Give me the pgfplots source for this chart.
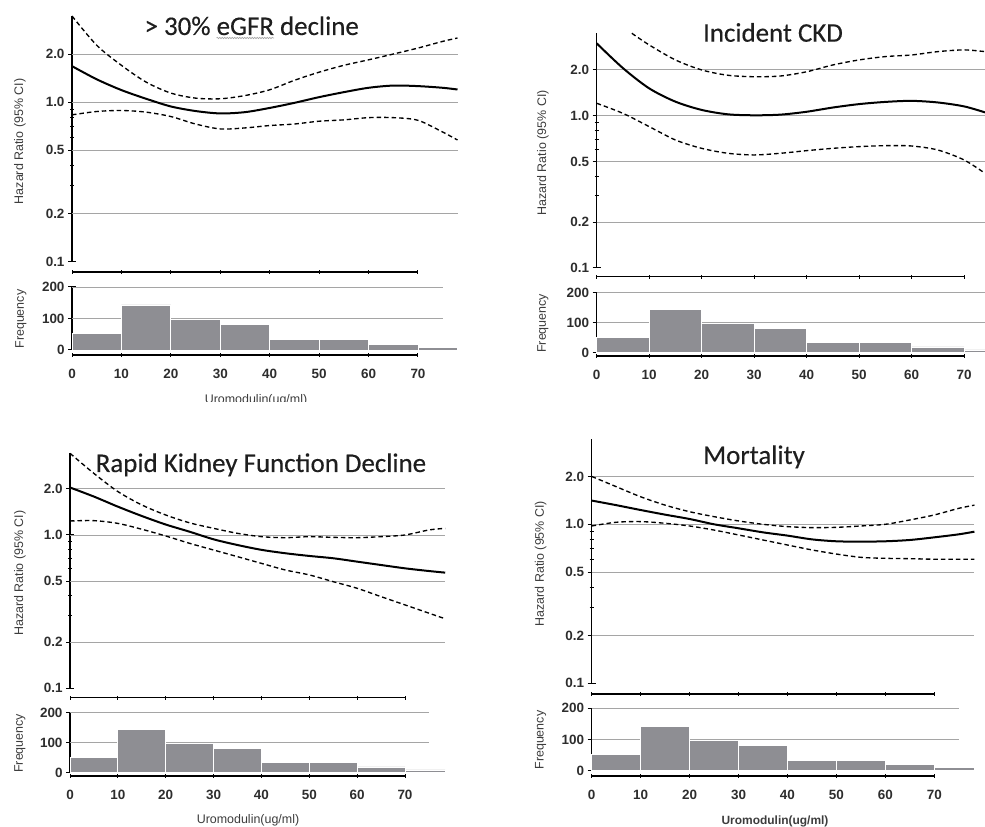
\documentclass[border=0pt]{standalone}
\usepackage{fontspec}
\setmainfont{Liberation Sans}
\newfontfamily\titlefont[FakeBold=0.3]{Carlito}
\usepackage{pgfplots}
\pgfplotsset{compat=1.18}
\usetikzlibrary{decorations.pathmorphing}
\definecolor{bargray}{RGB}{142,142,147}
\definecolor{gridgray}{RGB}{165,165,165}
\definecolor{txt}{RGB}{45,45,45}
\definecolor{lbl}{RGB}{60,60,60}
\definecolor{ttl}{RGB}{30,30,30}
\pgfplotsset{
 mybase/.style={scale only axis, anchor=south west, clip=false, tick align=outside,
   tick style={black, line width=1bp}, axis line style={black, line width=1.3bp},
   ticklabel style={font=\bfseries\fontsize{13.5}{13.5}\selectfont, text=txt},
   label style={font=\fontsize{12.5}{14}\selectfont, text=lbl}},
 myyl/.style={ylabel style={at={([xshift=#1]axis description cs:0,0.49)}, anchor=center}},
 myhr/.style={mybase, axis y line=left, axis x line=none, y axis line style={-}, xtick=\empty, xmin=0,
   ytick={0.1,0.2,0.5,1,2}, yticklabels={0.1,0.2,0.5,1.0,2.0},
   minor ytick={0.3,0.4,0.6,0.7,0.8,0.9}, major tick length=8bp, minor tick length=4bp,
   ylabel={Hazard Ratio (95\% CI)}},
 myfr/.style={mybase, ymin=0, ymax=200, axis y line=left, axis x line=none, y axis line style={-}, xtick=\empty, xmin=0,
   ytick={0,100,200}, yticklabels={0,100,200}, major tick length=8bp, ylabel={Frequency}},
 myxl/.style={mybase, height=1bp, ymin=0, ymax=1, xmin=0, xmax=70, axis x line=bottom, axis y line=none,
   x axis line style={-}, ytick=\empty, xtick={0,10,...,70}, major tick length=4bp},
 myxlab/.style={myxl, xticklabels={0,10,20,30,40,50,60,70}, xticklabel style={anchor=center, yshift=-17bp}},
 myxnolab/.style={myxl, xticklabels={}},
 myest/.style={black, line width=2bp, smooth},
 myci/.style={black, line width=1.35bp, dash pattern=on 4.5bp off 3bp, smooth},
 mygrid/.style={gridgray, line width=0.9bp, forget plot},
 myhist/.style={ybar interval, fill=bargray, draw=white, line width=0.8bp},
}
\begin{document}
\begin{tikzpicture}
\path[use as bounding box] (0,0) rectangle (985bp,827bp);
% ---------------- Panel 1 ----------------
\begin{axis}[myhr, ymode=log, ymin=0.1, at={(72bp,565bp)}, width=385.5bp, height=246bp, xmax=78, ymax=3.46, myyl=-52bp]
\addplot[mygrid] coordinates {(0,0.2)(78,0.2)};
\addplot[mygrid] coordinates {(0,0.5)(78,0.5)};
\addplot[mygrid] coordinates {(0,1)(78,1)};
\addplot[mygrid] coordinates {(0,2)(78,2)};
\addplot[myci] coordinates {(0,3.46)(5,2.27)(10,1.70)(15,1.335)(20,1.14)(25,1.06)(30,1.05)(35,1.10)(40,1.195)(45,1.37)(50,1.54)(55,1.70)(60,1.84)(65,2.0)(70,2.18)(75,2.40)(78,2.52)};
\addplot[myest] coordinates {(0,1.68)(5,1.39)(10,1.19)(15,1.05)(20,0.94)(25,0.88)(30,0.85)(35,0.866)(40,0.92)(45,0.99)(50,1.075)(55,1.155)(60,1.23)(65,1.27)(70,1.26)(75,1.23)(78,1.2)};
\addplot[myci] coordinates {(0,0.833)(5,0.874)(10,0.887)(15,0.866)(20,0.813)(25,0.73)(30,0.68)(35,0.69)(40,0.714)(45,0.73)(50,0.76)(55,0.775)(60,0.80)(65,0.80)(70,0.77)(75,0.65)(78,0.58)};
\end{axis}
\begin{axis}[myxnolab, at={(72bp,555bp)}, width=346bp]\addplot[draw=none] coordinates {(0,0)};\end{axis}
\begin{axis}[myfr, at={(72bp,477bp)}, width=385.5bp, height=63bp, xmax=78, myyl=-51bp]
\addplot[mygrid] coordinates {(0,100)(75,100)};
\addplot[mygrid] coordinates {(0,200)(75,200)};
\addplot[myhist] coordinates {(0,52)(10,143)(20,97)(30,80)(40,34)(50,34)(60,19)(70,9)(78,9)};
\end{axis}
\begin{axis}[myxlab, at={(72bp,472bp)}, width=346bp]\addplot[draw=none] coordinates {(0,0)};\end{axis}
\node[font=\titlefont\fontsize{27}{30}\selectfont, text=ttl, anchor=base] at (251.7bp,792bp) {> 30\% eGFR decline};
\draw[gridgray, line width=0.6bp, decorate, decoration={snake, amplitude=0.7bp, segment length=2.5bp}] (216.5bp,789bp) -- (274bp,789bp);
\begin{scope}
\clip (150bp,425.3bp) rectangle (360bp,440bp);
\node[anchor=base, font=\fontsize{12.5}{14}\selectfont, text=lbl] at (256bp,423bp) {Uromodulin(ug/ml)};
\end{scope}
% ---------------- Panel 2 ----------------
\begin{axis}[myhr, ymode=log, ymin=0.1, at={(596.7bp,559bp)}, width=388.3bp, height=234.7bp, xmax=74, ymax=3.47, myyl=-53.7bp]
\addplot[mygrid] coordinates {(0,0.2)(74,0.2)};
\addplot[mygrid] coordinates {(0,0.5)(74,0.5)};
\addplot[mygrid] coordinates {(0,1)(74,1)};
\addplot[mygrid] coordinates {(0,2)(74,2)};
\addplot[myci] coordinates {(6.7,3.47)(10,2.91)(15,2.32)(20,1.995)(25,1.84)(30,1.80)(35,1.82)(40,1.94)(45,2.15)(50,2.32)(55,2.44)(60,2.50)(65,2.63)(70,2.70)(74,2.63)};
\addplot[myest] coordinates {(0,2.98)(5,2.05)(10,1.51)(15,1.235)(20,1.09)(25,1.02)(30,1.005)(35,1.015)(40,1.06)(45,1.13)(50,1.19)(55,1.23)(60,1.25)(65,1.22)(70,1.15)(74,1.05)};
\addplot[myci] coordinates {(0,1.205)(5,1.035)(10,0.847)(15,0.692)(20,0.61)(25,0.566)(30,0.552)(35,0.566)(40,0.589)(45,0.61)(50,0.626)(55,0.635)(60,0.632)(65,0.595)(70,0.512)(74,0.418)};
\end{axis}
\begin{axis}[myxnolab, at={(596.7bp,550.3bp)}, width=367.3bp]\addplot[draw=none] coordinates {(0,0)};\end{axis}
\begin{axis}[myfr, at={(596.7bp,474.3bp)}, width=388.3bp, height=60bp, xmax=74, myyl=-53.7bp]
\addplot[mygrid] coordinates {(0,100)(74,100)};
\addplot[mygrid] coordinates {(0,200)(74,200)};
\addplot[myhist] coordinates {(0,52)(10,143)(20,97)(30,80)(40,34)(50,34)(60,19)(70,9)(74,9)};
\end{axis}
\begin{axis}[myxlab, at={(596.7bp,471bp)}, width=367.3bp]\addplot[draw=none] coordinates {(0,0)};\end{axis}
\node[font=\titlefont\fontsize{27}{30}\selectfont, text=ttl, anchor=base] at (773bp,785.3bp) {Incident CKD};
% ---------------- Panel 3 ----------------
\begin{axis}[myhr, ymode=log, ymin=0.1, at={(70bp,138.7bp)}, width=375.2bp, height=235bp, xmax=78.4, ymax=3.41, myyl=-50bp]
\addplot[mygrid] coordinates {(0,0.2)(78.4,0.2)};
\addplot[mygrid] coordinates {(0,0.5)(78.4,0.5)};
\addplot[mygrid] coordinates {(0,1)(78.4,1)};
\addplot[mygrid] coordinates {(0,2)(78.4,2)};
\addplot[myci] coordinates {(0,3.41)(5,2.52)(10,1.92)(15,1.57)(20,1.35)(25,1.20)(30,1.105)(35,1.025)(40,0.975)(45,0.96)(50,0.975)(55,0.965)(60,0.96)(65,0.975)(70,1.0)(75,1.078)(78.4,1.105)};
\addplot[myest] coordinates {(0,2.04)(5,1.78)(10,1.53)(15,1.33)(20,1.17)(25,1.05)(30,0.937)(35,0.86)(40,0.80)(45,0.76)(50,0.73)(55,0.705)(60,0.67)(65,0.637)(70,0.606)(75,0.582)(78.4,0.568)};
\addplot[myci] coordinates {(0,1.234)(5,1.24)(10,1.19)(15,1.09)(20,0.985)(25,0.882)(30,0.798)(35,0.722)(40,0.653)(45,0.591)(50,0.549)(55,0.496)(60,0.449)(65,0.396)(70,0.35)(75,0.309)(78.4,0.284)};
\end{axis}
\begin{axis}[myxnolab, at={(70bp,129.3bp)}, width=335bp]\addplot[draw=none] coordinates {(0,0)};\end{axis}
\begin{axis}[myfr, at={(70bp,54.3bp)}, width=375.2bp, height=60bp, xmax=78.4, myyl=-50bp]
\addplot[mygrid] coordinates {(0,100)(75,100)};
\addplot[mygrid] coordinates {(0,200)(75,200)};
\addplot[myhist] coordinates {(0,52)(10,143)(20,97)(30,80)(40,34)(50,34)(60,19)(70,9)(78.4,9)};
\end{axis}
\begin{axis}[myxlab, at={(70bp,51bp)}, width=335bp]\addplot[draw=none] coordinates {(0,0)};\end{axis}
\node[font=\titlefont\fontsize{27}{30}\selectfont, text=ttl, anchor=base] at (261bp,355bp) {Rapid Kidney Function Decline};
\node[font=\fontsize{12.5}{14}\selectfont, text=lbl] at (248bp,7bp) {Uromodulin(ug/ml)};
% ---------------- Panel 4 ----------------
\begin{axis}[myhr, ymode=log, ymin=0.1, at={(591.7bp,143.7bp)}, width=382.7bp, height=244.3bp, xmax=78.2, ymax=3.44, myyl=-51bp]
\addplot[mygrid] coordinates {(0,0.2)(78.2,0.2)};
\addplot[mygrid] coordinates {(0,0.5)(78.2,0.5)};
\addplot[mygrid] coordinates {(0,1)(78.2,1)};
\addplot[mygrid] coordinates {(0,2)(78.2,2)};
\addplot[myci] coordinates {(0,2.0)(5,1.725)(10,1.49)(15,1.32)(20,1.20)(25,1.117)(30,1.05)(35,1.0)(40,0.967)(45,0.953)(50,0.957)(55,0.976)(60,1.0)(65,1.065)(70,1.145)(75,1.26)(78.2,1.32)};
\addplot[myest] coordinates {(0,1.41)(5,1.32)(10,1.23)(15,1.15)(20,1.08)(25,1.0)(30,0.944)(35,0.89)(40,0.849)(45,0.804)(50,0.782)(55,0.778)(60,0.782)(65,0.797)(70,0.828)(75,0.865)(78.2,0.899)};
\addplot[myci] coordinates {(0,0.976)(5,1.03)(10,1.04)(15,1.015)(20,0.976)(25,0.92)(30,0.857)(35,0.797)(40,0.741)(45,0.69)(50,0.65)(55,0.62)(60,0.611)(65,0.608)(70,0.603)(75,0.603)(78.2,0.603)};
\end{axis}
\begin{axis}[myxnolab, at={(591.7bp,133bp)}, width=342.6bp]\addplot[draw=none] coordinates {(0,0)};\end{axis}
\begin{axis}[myfr, at={(591.7bp,56.3bp)}, width=382.7bp, height=62.4bp, xmax=78.2, myyl=-51bp]
\addplot[mygrid] coordinates {(0,100)(75,100)};
\addplot[mygrid] coordinates {(0,200)(75,200)};
\addplot[myhist] coordinates {(0,52)(10,143)(20,97)(30,80)(40,34)(50,34)(60,19)(70,9)(78.2,9)};
\end{axis}
\begin{axis}[myxlab, at={(591.7bp,51bp)}, width=342.6bp]\addplot[draw=none] coordinates {(0,0)};\end{axis}
\node[font=\titlefont\fontsize{27}{30}\selectfont, text=ttl, anchor=base] at (754bp,363bp) {Mortality};
\node[font=\bfseries\fontsize{12}{14}\selectfont, text=lbl] at (775bp,5.5bp) {Uromodulin(ug/ml)};
\end{tikzpicture}
\end{document}
